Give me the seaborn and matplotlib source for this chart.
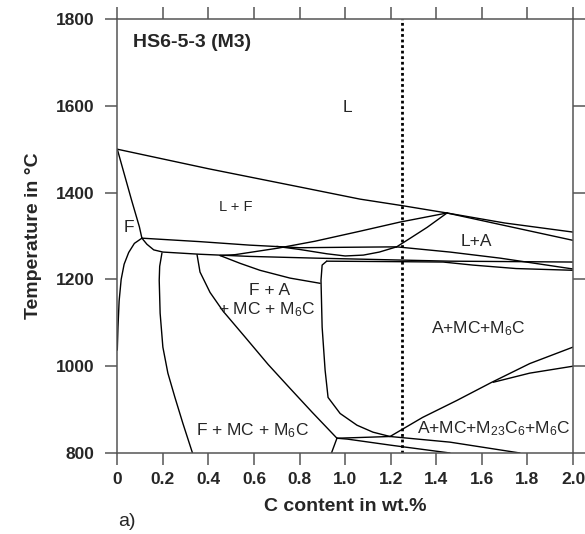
import pandas as pd
import seaborn as sns
import matplotlib.pyplot as plt

# phase boundaries (C in wt.%, T in degC)
liquidus_c = [0, 0.4, 0.8, 1.065, 1.25, 1.447]
liquidus_t = [1500, 1455, 1413, 1385, 1370, 1353]
liq_up_c = [1.447, 1.7, 2.0]
liq_up_t = [1353, 1330, 1309]
liq_low_c = [1.447, 2.0]
liq_low_t = [1353, 1290]
delta_c = [0, 0.063, 0.097, 0.108]
delta_t = [1500, 1382, 1321, 1295]
ferrite_low_c = [0.108, 0.075, 0.05, 0.03, 0.017, 0.008, 0.003, 0]
ferrite_low_t = [1295, 1283, 1262, 1235, 1200, 1150, 1090, 1037]
p1_c = [0.108, 0.363, 0.58, 0.80, 1.0, 1.226]
p1_t = [1295, 1287, 1279, 1273, 1274, 1275]
dip_c = [0.70, 0.8, 0.92, 1.0, 1.08, 1.15, 1.226]
dip_t = [1276, 1269, 1259, 1254, 1256, 1263, 1275]
line_b_c = [0.108, 0.13, 0.16, 0.20, 0.36, 0.58, 0.87, 1.46, 2.0]
line_b_t = [1295, 1281, 1268, 1263, 1258, 1253, 1249, 1242, 1240]
fa_left_c = [0.196, 0.186, 0.184, 0.188, 0.20, 0.222, 0.253, 0.288, 0.33]
fa_left_t = [1261, 1230, 1198, 1122, 1044, 984, 928, 868, 800]
c_left_c = [0.35, 0.363, 0.407, 0.464, 0.561, 0.662, 0.758, 0.855, 0.964]
c_left_t = [1257, 1217, 1170, 1127, 1067, 1004, 949, 894, 834]
fa_up_c = [0.451, 0.539, 0.626, 0.758, 0.89]
fa_up_t = [1255, 1237, 1221, 1203, 1191]
la_c = [0.451, 0.517, 0.705, 0.868, 1.065, 1.24, 1.447]
la_t = [1255, 1257, 1272, 1288, 1311, 1332, 1353]
la_curve_c = [1.447, 1.36, 1.286, 1.226]
la_curve_t = [1353, 1320, 1295, 1275]
line_a_c = [1.226, 1.46, 1.68, 2.0]
line_a_t = [1275, 1263, 1249, 1224]
line_c_c = [0.919, 1.2, 1.43, 1.56, 1.75, 2.0]
line_c_t = [1242, 1241, 1240, 1233, 1225, 1221]
vert_c = [0.919, 0.899, 0.894, 0.899, 0.912, 0.925, 0.978, 1.052, 1.122, 1.197]
vert_t = [1242, 1233, 1198, 1090, 991, 928, 891, 864, 848, 838]
j1_c = [0.964, 0.94]
j1_t = [834, 800]
h1_c = [0.964, 1.197, 1.46, 1.767]
h1_t = [834, 838, 825, 800]
h2_c = [0.964, 1.01, 1.2, 1.46]
h2_t = [834, 832, 818, 800]
rise_c = [1.197, 1.34, 1.49, 1.64, 1.81, 2.0]
rise_t = [838, 882, 921, 962, 1006, 1044]
branch_c = [1.65, 1.81, 2.0]
branch_t = [963, 984, 1000]

curves = {
    'liquidus': (liquidus_c, liquidus_t), 'liq_up': (liq_up_c, liq_up_t),
    'liq_low': (liq_low_c, liq_low_t), 'delta': (delta_c, delta_t),
    'ferrite_low': (ferrite_low_c, ferrite_low_t), 'p1': (p1_c, p1_t),
    'dip': (dip_c, dip_t), 'line_b': (line_b_c, line_b_t),
    'fa_left': (fa_left_c, fa_left_t), 'c_left': (c_left_c, c_left_t),
    'fa_up': (fa_up_c, fa_up_t), 'la': (la_c, la_t),
    'la_curve': (la_curve_c, la_curve_t), 'line_a': (line_a_c, line_a_t),
    'line_c': (line_c_c, line_c_t), 'vert': (vert_c, vert_t),
    'j1': (j1_c, j1_t), 'h1': (h1_c, h1_t), 'h2': (h2_c, h2_t),
    'rise': (rise_c, rise_t), 'branch': (branch_c, branch_t),
}

rows = []
for name, (cs, ts) in curves.items():
    for i, (c, t) in enumerate(zip(cs, ts)):
        rows.append({'curve': name, 'order': i, 'C': c, 'T': t})
df = pd.DataFrame(rows)

alloy_c = 1.25
x_ticks = [0, 0.2, 0.4, 0.6, 0.8, 1.0, 1.2, 1.4, 1.6, 1.8, 2.0]
x_labels = ['0', '0.2', '0.4', '0.6', '0.8', '1.0', '1.2', '1.4', '1.6', '1.8', '2.0']
y_ticks = [800, 1000, 1200, 1400, 1600, 1800]

sns.set_theme(style='ticks')
plt.rcParams['font.family'] = ['Liberation Sans', 'DejaVu Sans']
plt.rcParams['mathtext.fontset'] = 'custom'
plt.rcParams['mathtext.rm'] = 'Liberation Sans'
plt.rcParams['mathtext.default'] = 'regular'

fig = plt.figure(figsize=(5.85, 5.34), dpi=100)
ax = fig.add_axes([0.2005, 0.1517, 0.779, 0.8127])

sns.lineplot(data=df, x='C', y='T', units='curve', estimator=None, sort=False,
             color='black', lw=1.0, ax=ax)
ax.axvline(alloy_c, color='black', lw=2.0, ls=(0, (1, 1)))

ax.set_xlim(0, 2.0)
ax.set_ylim(800, 1800)
ax.set_xticks(x_ticks)
ax.set_xticklabels(x_labels)
ax.set_yticks(y_ticks)
for s in ax.spines.values():
    s.set_visible(True)
    s.set_color('#555555')
    s.set_linewidth(1.1)
ax.tick_params(direction='out', length=8.5, width=1.1, color='#555555',
               top=True, right=True, labelsize=12.5)
ax.tick_params(axis='x', pad=5)
ax.tick_params(axis='y', pad=8)
for lab in ax.get_xticklabels() + ax.get_yticklabels():
    lab.set_fontweight('bold')

ax.set_xlabel('C content in wt.%', fontsize=14, fontweight='bold', labelpad=8)
ax.set_ylabel('Temperature in °C', fontsize=14, fontweight='bold', labelpad=10)

ax.text(0.07, 1747, 'HS6-5-3 (M3)', fontsize=14, fontweight='bold', va='center')
lab_kw = dict(ha='center', va='center', fontsize=12.5)
ax.text(1.008, 1595, 'L', **lab_kw)
ax.text(0.52, 1366, 'L + F', ha='center', va='center', fontsize=10.5)
ax.text(0.05, 1320, 'F', **lab_kw)
ax.text(1.575, 1288, 'L+A', **lab_kw)
ax.text(0.67, 1175, 'F + A', **lab_kw)
ax.text(0.657, 1131, '+ MC + M$_6$C', **lab_kw)
ax.text(1.583, 1087, 'A+MC+M$_6$C', **lab_kw)
ax.text(1.65, 857, 'A+MC+M$_{23}$C$_6$+M$_6$C', **lab_kw)
ax.text(0.595, 852, 'F + MC + M$_6$C', **lab_kw)

fig.text(118 / 585, 4 / 534, 'a)', fontsize=14, ha='left', va='bottom')

fig.savefig('out.png', dpi=100)
